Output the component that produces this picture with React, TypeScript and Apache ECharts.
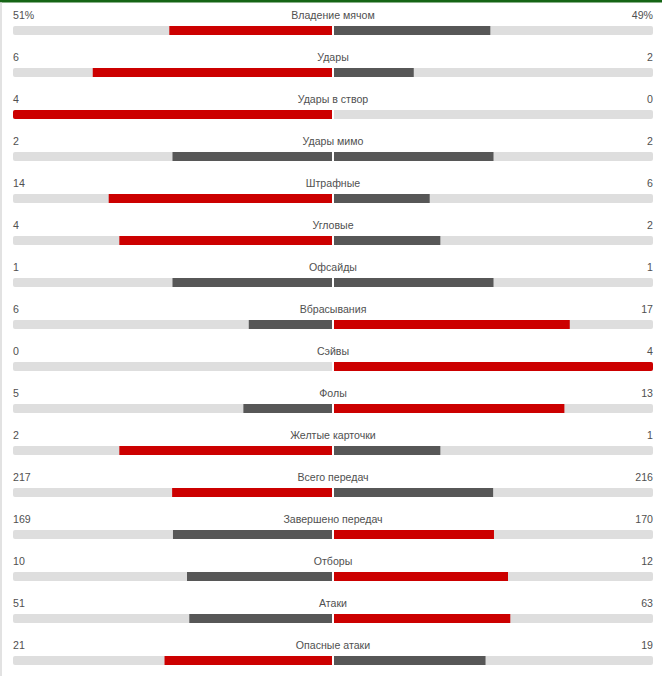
import React, { useEffect, useRef } from "react";
import * as echarts from "echarts";

const categories = [
  "Владение мячом",
  "Удары",
  "Удары в створ",
  "Удары мимо",
  "Штрафные",
  "Угловые",
  "Офсайды",
  "Вбрасывания",
  "Сэйвы",
  "Фолы",
  "Желтые карточки",
  "Всего передач",
  "Завершено передач",
  "Отборы",
  "Атаки",
  "Опасные атаки",
];
const homeValues = [51, 6, 4, 2, 14, 4, 1, 6, 0, 5, 2, 217, 169, 10, 51, 21];
const awayValues = [49, 2, 0, 2, 6, 2, 1, 17, 4, 13, 1, 216, 170, 12, 63, 19];
const homeLabels = homeValues.map((v, i) => (i === 0 ? v + "%" : String(v)));
const awayLabels = awayValues.map((v, i) => (i === 0 ? v + "%" : String(v)));

const RED = "#cc0000";
const GRAY = "#575757";
const TRACK = "#dedede";
const TEXT = "#505050";
const FONT = "'Liberation Sans', Arial, sans-serif";

export default function App() {
  const ref = useRef<HTMLDivElement>(null);
  useEffect(() => {
    if (!ref.current) return;
    const chart = echarts.init(ref.current, undefined, { renderer: "svg" });
    const n = categories.length;
    const ones = categories.map(() => 1);
    const homeData = homeValues.map((h, i) => {
      const a = awayValues[i];
      const tot = h + a;
      const r = tot === 0 ? 0 : h / tot;
      return {
        value: r,
        itemStyle: {
          color: h > a ? RED : GRAY,
          borderRadius: r >= 1 ? [2, 0, 0, 2] : 0,
        },
      };
    });
    const awayData = awayValues.map((a, i) => {
      const h = homeValues[i];
      const tot = h + a;
      const r = tot === 0 ? 0 : a / tot;
      return {
        value: r,
        itemStyle: {
          color: a > h ? RED : GRAY,
          borderRadius: r >= 1 ? [0, 2, 2, 0] : 0,
        },
      };
    });
    const labelBase = {
      show: true,
      color: TEXT,
      fontSize: 10.6,
      fontFamily: FONT,
      verticalAlign: "middle" as const,
    };
    const rowH = 42;
    const gridTop = 30.5;
    const gridH = rowH * (n - 1);
    chart.setOption({
      animation: false,
      graphic: [
        { type: "rect", left: 0, top: 0, shape: { width: 662, height: 2.5 }, style: { fill: "#156515" }, z: 10 },
        { type: "rect", left: 0, top: 2.5, shape: { width: 2, height: 674 }, style: { fill: "#e2e2e2" }, z: 10 },
      ],
      grid: [
        { left: 13, top: gridTop, width: 319, height: gridH },
        { left: 334, top: gridTop, width: 319, height: gridH },
      ],
      xAxis: [
        { gridIndex: 0, type: "value", min: 0, max: 1, inverse: true, show: false },
        { gridIndex: 1, type: "value", min: 0, max: 1, show: false },
      ],
      yAxis: [
        { gridIndex: 0, type: "category", data: categories, inverse: true, boundaryGap: false, show: false },
        { gridIndex: 1, type: "category", data: categories, inverse: true, boundaryGap: false, show: false },
      ],
      series: [
        {
          type: "bar",
          xAxisIndex: 0,
          yAxisIndex: 0,
          data: ones,
          barWidth: 9,
          barGap: "-100%",
          silent: true,
          itemStyle: { color: TRACK, borderRadius: [2, 0, 0, 2] },
          label: {
            ...labelBase,
            position: [0, -11],
            align: "left",
            formatter: (p: any) => homeLabels[p.dataIndex],
          },
        },
        {
          type: "bar",
          xAxisIndex: 0,
          yAxisIndex: 0,
          data: homeData,
          barWidth: 9,
          barGap: "-100%",
          silent: true,
        },
        {
          type: "bar",
          xAxisIndex: 1,
          yAxisIndex: 1,
          data: ones,
          barWidth: 9,
          barGap: "-100%",
          silent: true,
          itemStyle: { color: TRACK, borderRadius: [0, 2, 2, 0] },
          label: {
            ...labelBase,
            position: ["100%", -11],
            align: "right",
            formatter: (p: any) => awayLabels[p.dataIndex],
          },
        },
        {
          type: "bar",
          xAxisIndex: 1,
          yAxisIndex: 1,
          data: awayData,
          barWidth: 9,
          barGap: "-100%",
          silent: true,
        },
        {
          type: "bar",
          xAxisIndex: 1,
          yAxisIndex: 1,
          data: ones,
          barWidth: 9,
          barGap: "-100%",
          silent: true,
          itemStyle: { color: "rgba(0,0,0,0)" },
          label: {
            ...labelBase,
            position: [-1, -11],
            align: "center",
            formatter: (p: any) => categories[p.dataIndex],
          },
        },
      ],
    });
    return () => chart.dispose();
  }, []);
  return (
    <div
      ref={ref}
      style={{ position: "absolute", left: 0, top: 0, width: 662, height: 676, background: "#fff" }}
    />
  );
}
